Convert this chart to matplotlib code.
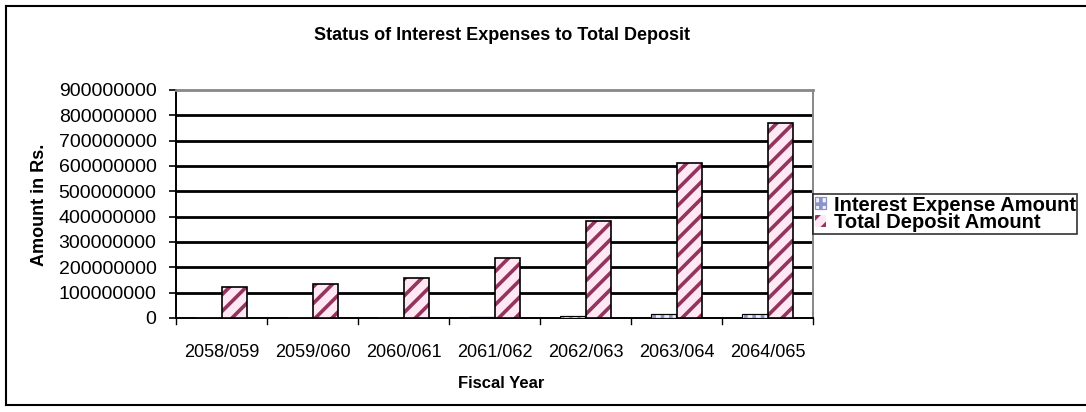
import matplotlib
matplotlib.use("Agg")
import matplotlib.pyplot as plt
import numpy as np
from matplotlib.lines import Line2D

plt.rcParams['font.family'] = ['Liberation Sans', 'DejaVu Sans']

fiscal_years = ["2058/059", "2059/060", "2060/061", "2061/062",
                "2062/063", "2063/064", "2064/065"]
interest_expense = [800000, 1000000, 1600000, 3500000, 9000000, 14000000, 15000000]
total_deposit = [122000000, 134000000, 158000000, 237000000,
                 383000000, 612000000, 770000000]
y_ticks = np.arange(0, 900000001, 100000000)

W, H = 1086, 412
fig = plt.figure(figsize=(W / 100, H / 100), dpi=100)
fig.patch.set_facecolor('white')

ax = fig.add_axes([176 / W, 1 - 318 / H, (813 - 176) / W, (318 - 90) / H])

x = np.arange(len(fiscal_years))
bw = 0.2857

plt.rcParams['hatch.linewidth'] = 2.6
b1 = ax.bar(x - bw / 2, interest_expense, width=bw, facecolor='#EEF2FF',
            edgecolor='#8C93C8', hatch='++', linewidth=0.9, zorder=3,
            label='Interest Expense Amount')
b2 = ax.bar(x + bw / 2, total_deposit, width=bw, facecolor='#FFE8F3',
            edgecolor='#93345F', hatch='//', linewidth=0, zorder=3,
            label='Total Deposit Amount')
# black outline drawn separately so hatch can keep its own colour
ax.bar(x + bw / 2, total_deposit, width=bw, facecolor='none',
       edgecolor='black', linewidth=1.2, zorder=4)
ax.bar(x - bw / 2, interest_expense, width=bw, facecolor='none',
       edgecolor='black', linewidth=0.8, zorder=4)

ax.set_xlim(-0.5, len(fiscal_years) - 0.5)
ax.set_ylim(0, 900000000)
ax.set_yticks(y_ticks)
ax.set_yticklabels([str(int(v)) for v in y_ticks], fontsize=14)
ax.set_xticks(x)
ax.set_xticklabels(fiscal_years, fontsize=13)
ax.tick_params(axis='x', length=0, pad=19)
ax.tick_params(axis='y', length=5, width=1.2, direction='out', pad=9)

# category boundary ticks
for b in np.arange(-0.5, len(fiscal_years), 1.0):
    ax.plot([b, b], [0, -0.025], transform=ax.get_xaxis_transform(),
            color='black', lw=1.0, clip_on=False)

for v in y_ticks[1:-1]:
    ax.axhline(v, color='black', lw=2.0, zorder=1)

ax.spines['left'].set_color('black')
ax.spines['left'].set_linewidth(1.4)
ax.spines['bottom'].set_color('black')
ax.spines['bottom'].set_linewidth(1.4)
ax.spines['top'].set_color('#888888')
ax.spines['top'].set_linewidth(2.0)
ax.spines['right'].set_color('#888888')
ax.spines['right'].set_linewidth(1.4)

fig.text(502 / W, 1 - 35 / H, "Status of Interest Expenses to Total Deposit",
         ha='center', va='center', fontsize=13, fontweight='bold')
fig.text(501 / W, 1 - 383 / H, "Fiscal Year", ha='center', va='center',
         fontsize=12, fontweight='bold')
fig.text(40 / W, 1 - 205 / H, "Amount in Rs.", ha='center', va='center',
         fontsize=13, fontweight='bold', rotation=90)

leg = fig.legend(handles=[b1, b2], loc='center left',
                 bbox_to_anchor=(813 / W, 1 - 214 / H),
                 frameon=True, fancybox=False, edgecolor='black',
                 prop={'size': 14.5, 'weight': 'bold'},
                 handlelength=0.55, handleheight=0.55, handletextpad=0.4,
                 borderpad=0.08, labelspacing=-0.05, borderaxespad=0)
leg.get_frame().set_linewidth(1.2)

# outer chart border
fig.add_artist(Line2D([6 / W, 6 / W], [1 - 6 / H, 1 - 405 / H],
                      transform=fig.transFigure, color='black', lw=1.5))
fig.add_artist(Line2D([6 / W, 1.0], [1 - 6 / H, 1 - 6 / H],
                      transform=fig.transFigure, color='black', lw=1.5))
fig.add_artist(Line2D([6 / W, 1.0], [1 - 405 / H, 1 - 405 / H],
                      transform=fig.transFigure, color='black', lw=1.5))

fig.savefig("out.png", dpi=100)
